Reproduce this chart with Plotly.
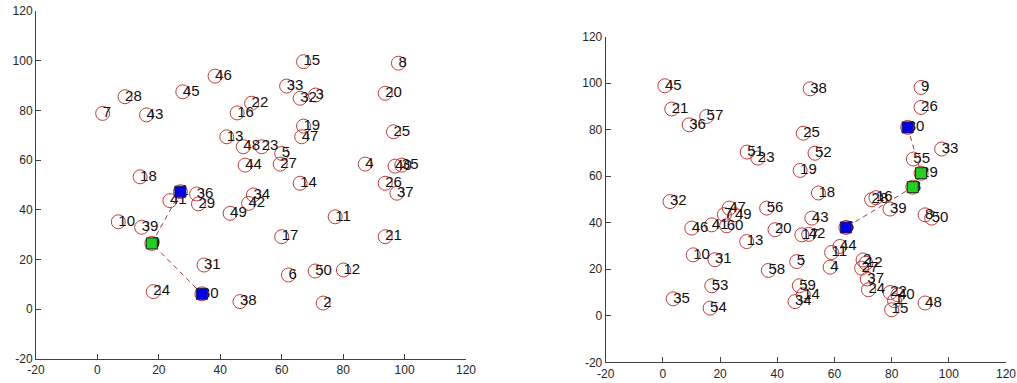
import plotly.graph_objects as go

# ---- Network A (50 nodes) ----
a_ids = list(range(1, 51))
a_x = [27.0, 73.5, 71.0, 87.2, 60.0, 62.2, 1.7, 98.0, 17.7, 6.8,
       77.4, 80.1, 42.1, 66.0, 67.1, 45.5, 60.0, 13.9, 67.1, 93.7,
       93.7, 50.2, 53.5, 18.2, 96.4, 93.7, 59.5, 9.0, 32.9, 34.0,
       34.7, 66.0, 61.6, 50.8, 99.1, 32.3, 97.5, 46.4, 14.4, 96.9,
       23.6, 49.2, 16.0, 48.1, 27.8, 38.3, 66.5, 47.5, 43.2, 70.9]
a_y = [47.3, 2.5, 86.2, 58.4, 62.7, 13.8, 78.8, 99.0, 26.5, 35.2,
       37.2, 15.8, 69.4, 50.7, 99.6, 79.0, 29.2, 53.3, 73.7, 86.9,
       29.2, 82.9, 65.4, 7.1, 71.4, 50.7, 58.4, 85.5, 42.4, 6.2,
       17.8, 84.9, 89.8, 46.0, 58.0, 46.4, 46.7, 3.1, 33.0, 57.6,
       43.7, 42.6, 78.2, 58.0, 87.5, 93.8, 69.4, 65.4, 38.6, 15.4]
a_route = [1, 9, 30]
a_heads = [1, 30]
a_relays = [9]

# ---- Network B (60 nodes) ----
b_ids = list(range(1, 61))
b_x = [81.0, 70.0, 87.4, 58.5, 46.8, 64.0, 21.5, 91.7, 90.3, 10.6,
       59.0, 71.0, 29.3, 49.1, 80.0, 74.5, 48.6, 54.4, 48.0, 39.2,
       3.1, 79.5, 33.2, 71.9, 49.1, 90.3, 69.5, 73.0, 90.3, 85.6,
       18.2, 2.5, 97.5, 46.2, 3.6, 9.2, 71.5, 51.5, 79.4, 82.2,
       17.1, 51.0, 52.1, 61.9, 0.7, 10.1, 23.2, 91.7, 25.2, 94.0,
       29.5, 53.2, 17.1, 16.5, 87.6, 36.3, 15.3, 36.9, 47.7, 22.3]
b_y = [6.5, 24.0, 55.3, 20.9, 23.3, 38.0, 43.5, 43.4, 98.2, 26.2,
       27.2, 22.6, 31.9, 9.0, 2.6, 50.8, 34.8, 52.8, 62.5, 37.0,
       88.9, 10.0, 67.8, 11.2, 78.5, 89.6, 20.5, 49.9, 61.3, 81.0,
       24.1, 49.1, 71.7, 6.1, 7.3, 82.1, 15.8, 97.6, 45.9, 9.0,
       39.1, 35.0, 42.0, 29.8, 98.9, 37.7, 46.3, 5.5, 43.4, 42.0,
       70.4, 69.9, 12.9, 3.3, 67.4, 46.3, 85.7, 19.5, 12.9, 38.7]
b_route = [30, 29, 3, 6]
b_heads = [30, 6]
b_relays = [29, 3]

tick_vals = [-20, 0, 20, 40, 60, 80, 100, 120]
tick_text = ["-20", "0", "20", "40", "60", "80", "100", "120"]

CIRCLE = "#c23b3b"
ROUTE = "#a33a3a"
LABEL_FONT = dict(family="Liberation Sans, Arial, sans-serif", size=15, color="#111111")

fig = go.Figure()


def pick(ids, xs, ys, sel):
    lookup = {i: (x, y) for i, x, y in zip(ids, xs, ys)}
    return [lookup[s][0] for s in sel], [lookup[s][1] for s in sel]


def add_network(ids, xs, ys, route, heads, relays, xa, ya):
    fig.add_trace(go.Scatter(
        x=xs, y=ys, mode="markers", xaxis=xa, yaxis=ya,
        marker=dict(symbol="circle-open", size=14, color=CIRCLE,
                    line=dict(width=1, color=CIRCLE)),
        hoverinfo="skip", showlegend=False))
    fig.add_trace(go.Scatter(
        x=xs, y=ys, mode="text", xaxis=xa, yaxis=ya,
        text=[str(i) for i in ids], textposition="middle right",
        marker=dict(size=1), textfont=LABEL_FONT,
        hoverinfo="skip", showlegend=False))
    rx, ry = pick(ids, xs, ys, route)
    fig.add_trace(go.Scatter(
        x=rx, y=ry, mode="lines", xaxis=xa, yaxis=ya,
        line=dict(color=ROUTE, width=1, dash="5px,4px"),
        hoverinfo="skip", showlegend=False))
    gx, gy = pick(ids, xs, ys, relays)
    fig.add_trace(go.Scatter(
        x=gx, y=gy, mode="markers", xaxis=xa, yaxis=ya,
        marker=dict(symbol="square", size=11, color="#1fd21f",
                    line=dict(width=1, color="#202020")),
        hoverinfo="skip", showlegend=False))
    hx, hy = pick(ids, xs, ys, heads)
    fig.add_trace(go.Scatter(
        x=hx, y=hy, mode="markers", xaxis=xa, yaxis=ya,
        marker=dict(symbol="square", size=11, color="#0000f0",
                    line=dict(width=1, color="#202040")),
        hoverinfo="skip", showlegend=False))


add_network(a_ids, a_x, a_y, a_route, a_heads, a_relays, "x", "y")
add_network(b_ids, b_x, b_y, b_route, b_heads, b_relays, "x2", "y2")

axis_style = dict(
    range=[-20, 120], tickmode="array", tickvals=tick_vals, ticktext=tick_text,
    showline=True, linecolor="#404040", linewidth=1, mirror=False,
    ticks="inside", ticklen=5, tickcolor="#404040",
    showgrid=False, zeroline=False, automargin=False,
    tickfont=dict(family="Liberation Sans, Arial, sans-serif", size=12, color="#262626"),
)

W, H = 1017, 383
fig.update_layout(
    width=W, height=H,
    margin=dict(l=0, r=0, t=0, b=0, pad=0),
    paper_bgcolor="white", plot_bgcolor="white",
    xaxis=dict(domain=[36 / W, 466 / W], anchor="y", **axis_style),
    yaxis=dict(domain=[(H - 359) / H, (H - 11) / H], anchor="x", **axis_style),
    xaxis2=dict(domain=[605.7 / W, 1006 / W], anchor="y2", **axis_style),
    yaxis2=dict(domain=[(H - 362.3) / H, (H - 36.7) / H], anchor="x2", **axis_style),
)

fig.write_html("out.html")
